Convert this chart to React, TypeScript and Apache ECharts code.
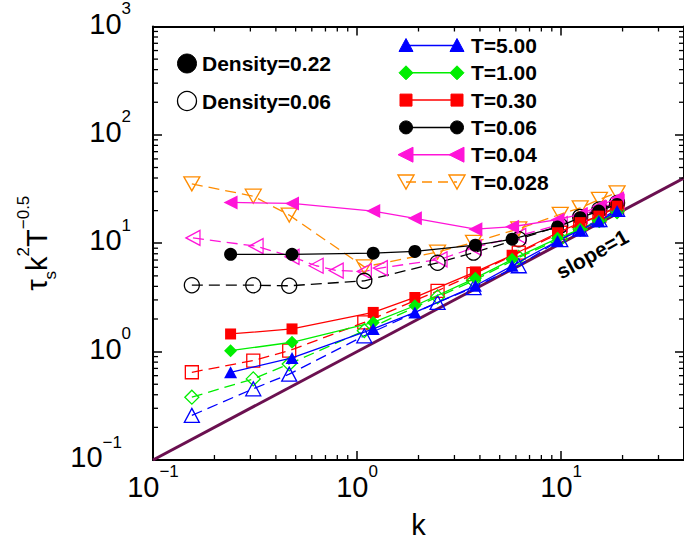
import React, { useEffect, useRef } from "react";
import * as echarts from "echarts";

// ---------- data ----------
const kDense = [0.24, 0.48, 1.2, 1.92, 3.8, 5.75, 9.6, 12.4, 15.3, 18.8];
const kDilute = [0.155, 0.31, 0.465, 1.085, 2.48, 3.72, 6.2, 9.9, 12.4, 15.4, 18.8];
const kDiluteT004 = [0.157, 0.32, 0.48, 0.63, 0.79, 1.085, 1.3, 2.55, 3.75, 6.2, 9.9, 12.4, 15.4, 18.8];

const dense_T500 = [0.645, 0.875, 1.62, 2.3, 4.05, 6.2, 10.5, 13.2, 16.0, 19.8];
const dense_T100 = [1.02, 1.22, 1.86, 2.65, 4.76, 7.1, 11.1, 13.5, 16.0, 19.0];
const dense_T030 = [1.455, 1.62, 2.3, 3.16, 5.44, 7.75, 12.5, 15.5, 17.8, 22.0];
const dense_T006 = [7.9, 7.9, 8.1, 8.4, 9.6, 10.9, 14.1, 17.2, 19.8, 22.8];
const dense_T004 = [23.8, 23.3, 19.8, 17.0, 13.5, 14.2, 16.5, 18.5, 22.0, 26.0];

const dilute_T500 = [0.258, 0.454, 0.62, 1.4, 2.84, 3.9, 6.2, 10.8, 13.5, 16.5, 20.5];
const dilute_T100 = [0.38, 0.56, 0.77, 1.56, 3.2, 4.5, 7.4, 11.0, 13.5, 16.3, 19.8];
const dilute_T030 = [0.645, 0.827, 1.02, 1.86, 3.64, 5.18, 8.2, 12.5, 15.0, 18.0, 21.5];
const dilute_T006 = [4.1, 4.1, 4.05, 4.5, 6.6, 8.2, 10.9, 14.5, 17.5, 20.5, 23.5];
const dilute_T004 = [11.2, 9.4, 7.5, 6.2, 5.6, 5.5, 5.9, 7.1, 9.1, 11.7, 15.0, 18.0, 21.0, 24.0];
const dilute_T0028 = [35.3, 27.2, 18.2, 6.05, 8.3, 10.2, 13.6, 18.5, 21.2, 25.4, 29.2];

const slopeK = [0.1, 40];
const slopeV = [0.1, 40];

const legendT = ["T=5.00", "T=1.00", "T=0.30", "T=0.06", "T=0.04", "T=0.028"];
const densityLabels = ["Density=0.22", "Density=0.06"];
const slopeLabel = "slope=1";
const xName = "k";

// ---------- styles ----------
const FONT = '"Liberation Sans", Arial, Helvetica, sans-serif';
const BLUE = "#0000ff";
const GREEN = "#00ee00";
const RED = "#ff0000";
const BLACK = "#000000";
const MAGENTA = "#ff14d8";
const ORANGE = "#ff8c00";
const SLOPE = "#6b1050";

type Def = {
  name: string;
  k: number[];
  v: number[];
  color: string;
  symbol: string;
  rot: number;
  filled: boolean;
  size: number | number[];
};

const defs: Def[] = [
  { name: "T=0.028 D=0.06", k: kDilute, v: dilute_T0028, color: ORANGE, symbol: "triangle", rot: 180, filled: false, size: [16, 14] },
  { name: "T=0.04 D=0.06", k: kDiluteT004, v: dilute_T004, color: MAGENTA, symbol: "triangle", rot: 90, filled: false, size: [15, 14] },
  { name: "T=0.06 D=0.06", k: kDilute, v: dilute_T006, color: BLACK, symbol: "circle", rot: 0, filled: false, size: 15 },
  { name: "T=0.30 D=0.06", k: kDilute, v: dilute_T030, color: RED, symbol: "rect", rot: 0, filled: false, size: 13 },
  { name: "T=1.00 D=0.06", k: kDilute, v: dilute_T100, color: GREEN, symbol: "diamond", rot: 0, filled: false, size: 14 },
  { name: "T=5.00 D=0.06", k: kDilute, v: dilute_T500, color: BLUE, symbol: "triangle", rot: 0, filled: false, size: [15, 14] },
  { name: "T=0.04 D=0.22", k: kDense, v: dense_T004, color: MAGENTA, symbol: "triangle", rot: 90, filled: true, size: [14, 14] },
  { name: "T=0.06 D=0.22", k: kDense, v: dense_T006, color: BLACK, symbol: "circle", rot: 0, filled: true, size: 13 },
  { name: "T=0.30 D=0.22", k: kDense, v: dense_T030, color: RED, symbol: "rect", rot: 0, filled: true, size: 11 },
  { name: "T=1.00 D=0.22", k: kDense, v: dense_T100, color: GREEN, symbol: "diamond", rot: 0, filled: true, size: 13 },
  { name: "T=5.00 D=0.22", k: kDense, v: dense_T500, color: BLUE, symbol: "triangle", rot: 0, filled: true, size: [13, 12] },
];

const legendStyle = [
  { color: BLUE, kind: "triangle", dashed: false, filled: true },
  { color: GREEN, kind: "diamond", dashed: false, filled: true },
  { color: RED, kind: "rect", dashed: false, filled: true },
  { color: BLACK, kind: "circle", dashed: false, filled: true },
  { color: MAGENTA, kind: "left", dashed: false, filled: true },
  { color: ORANGE, kind: "down", dashed: true, filled: false },
];

function marker(kind: string, x: number, y: number, color: string, filled: boolean): any {
  const style = filled
    ? { fill: color, stroke: color, lineWidth: 1 }
    : { fill: "none", stroke: color, lineWidth: 1.4 };
  switch (kind) {
    case "triangle":
      return { type: "polygon", silent: true, shape: { points: [[x - 7, y + 6], [x, y - 7], [x + 7, y + 6]] }, style };
    case "diamond":
      return { type: "polygon", silent: true, shape: { points: [[x - 7, y], [x, y - 7], [x + 7, y], [x, y + 7]] }, style };
    case "rect":
      return { type: "rect", silent: true, shape: { x: x - 6, y: y - 6, width: 12, height: 12 }, style };
    case "circle":
      return { type: "circle", silent: true, shape: { cx: x, cy: y, r: 6.5 }, style };
    case "left":
      return { type: "polygon", silent: true, shape: { points: [[x - 8, y], [x + 7, y - 7.5], [x + 7, y + 7.5]] }, style };
    default:
      return { type: "polygon", silent: true, shape: { points: [[x - 8, y - 7], [x + 8, y - 7], [x, y + 7]] }, style };
  }
}

const labelFmt = (pad: boolean) => (v: number) => {
  const l = Math.log10(v);
  const e = Math.round(l);
  if (Math.abs(l - e) > 1e-6) return "";
  const s = e < 0 ? "\u2212" + String(-e) : String(e);
  return `{b|10}{s|${s}}` + (pad && e < 0 ? "{p|}" : "");
};

const richLabel = {
  b: { fontSize: 29, lineHeight: 38, verticalAlign: "bottom", fontFamily: FONT, color: "#000" },
  s: { fontSize: 17, lineHeight: 17, verticalAlign: "top", fontFamily: FONT, color: "#000" },
  p: { width: 9 },
};

export default function App() {
  const ref = useRef<HTMLDivElement>(null);
  useEffect(() => {
    if (!ref.current) return;
    const chart = echarts.init(ref.current, undefined, { renderer: "svg" });

    const minorX: number[] = [];
    [0.1, 1, 10].forEach((d) => {
      for (let m = 2; m <= 9; m++) {
        const v = m * d;
        if (v < 40) minorX.push(v);
      }
    });
    const minorY: number[] = [];
    [0.1, 1, 10, 100].forEach((d) => {
      for (let m = 2; m <= 9; m++) minorY.push(m * d);
    });

    const dataSeries = defs.map((d) => ({
      type: "line",
      name: d.name,
      silent: true,
      xAxisIndex: 0,
      yAxisIndex: 0,
      data: d.k.map((k, i) => [k, d.v[i]]),
      symbol: d.symbol,
      symbolSize: d.size,
      symbolRotate: d.rot,
      showAllSymbol: true,
      lineStyle: {
        color: d.color,
        width: 1.3,
        type: d.filled ? "solid" : [11, 6],
      },
      itemStyle: d.filled
        ? { color: d.color, borderColor: d.color, borderWidth: 0 }
        : { color: "transparent", borderColor: d.color, borderWidth: 1.3 },
      z: d.filled ? 4 : 3,
    }));

    const graphics: any[] = [];
    legendT.forEach((t, i) => {
      const y = 45.5 + i * 27.3;
      const st = legendStyle[i];
      graphics.push({
        type: "line",
        silent: true,
        shape: { x1: 406, y1: y, x2: 457, y2: y },
        style: { stroke: st.color, lineWidth: 1.5, lineDash: st.dashed ? [10, 6] : null },
      });
      graphics.push(marker(st.kind, 406, y, st.color, st.filled));
      graphics.push(marker(st.kind, 457, y, st.color, st.filled));
      graphics.push({
        type: "text",
        silent: true,
        x: 471,
        y: y,
        style: { text: t, fontSize: 21, fontWeight: "bold", fontFamily: FONT, fill: "#000", verticalAlign: "middle", align: "left" },
      });
    });
    densityLabels.forEach((t, i) => {
      const y = 63.5 + i * 37.5;
      graphics.push({
        type: "circle",
        silent: true,
        shape: { cx: 187, cy: y, r: 9.5 },
        style: i === 0 ? { fill: "#000", stroke: "#000" } : { fill: "none", stroke: "#000", lineWidth: 1.3 },
      });
      graphics.push({
        type: "text",
        silent: true,
        x: 202,
        y: y,
        style: { text: t, fontSize: 21, fontWeight: "bold", fontFamily: FONT, fill: "#000", verticalAlign: "middle", align: "left" },
      });
    });
    graphics.push({
      type: "text",
      silent: true,
      x: 592,
      y: 254,
      rotation: (29 * Math.PI) / 180,
      style: { text: slopeLabel, fontSize: 21, fontWeight: "bold", fontFamily: FONT, fill: "#000", align: "center", verticalAlign: "middle" },
    });

    const axisLineStyle = { show: true, onZero: false, lineStyle: { color: "#000", width: 2 } };
    const majorTick = { show: true, inside: true, length: 9, lineStyle: { color: "#000", width: 1.5 } };

    const option: any = {
      animation: false,
      backgroundColor: "#fff",
      textStyle: { fontFamily: FONT },
      grid: { left: 153, top: 24, width: 537, height: 436, containLabel: false },
      xAxis: [
        {
          type: "log",
          logBase: 10,
          min: 0.1,
          max: 40,
          position: "bottom",
          axisLine: axisLineStyle,
          axisTick: majorTick,
          splitLine: { show: false },
          axisLabel: { formatter: labelFmt(false), rich: richLabel, margin: 3, showMaxLabel: false, hideOverlap: false },
          name: xName,
          nameLocation: "middle",
          nameGap: 50,
          nameTextStyle: { fontSize: 29, fontFamily: FONT, color: "#000" },
        },
        {
          type: "log",
          logBase: 10,
          min: 0.1,
          max: 40,
          position: "top",
          axisLine: axisLineStyle,
          axisTick: majorTick,
          splitLine: { show: false },
          axisLabel: { show: false },
        },
      ],
      yAxis: [
        {
          type: "log",
          logBase: 10,
          min: 0.1,
          max: 1000,
          position: "left",
          axisLine: axisLineStyle,
          axisTick: majorTick,
          splitLine: { show: false },
          axisLabel: { formatter: labelFmt(true), rich: richLabel, margin: 22, padding: [0, 0, 15, 0], align: "right" },
          name: "{t|\u03c4}{sub|s}{t|k}{sup|2}{t|T}{sup|\u22120.5}",
          nameLocation: "middle",
          nameRotate: 90,
          nameGap: 91,
          nameTextStyle: {
            rich: {
              t: { fontSize: 29, lineHeight: 44, fontFamily: FONT, color: "#000" },
              sup: { fontSize: 17, lineHeight: 17, verticalAlign: "top", fontFamily: FONT, color: "#000" },
              sub: { fontSize: 17, lineHeight: 17, verticalAlign: "bottom", fontFamily: FONT, color: "#000" },
            },
          },
        },
        {
          type: "log",
          logBase: 10,
          min: 0.1,
          max: 1000,
          position: "right",
          axisLine: axisLineStyle,
          axisTick: majorTick,
          splitLine: { show: false },
          axisLabel: { show: false },
        },
      ],
      graphic: graphics,
      series: [
        {
          type: "line",
          name: "slope=1",
          silent: true,
          data: slopeK.map((k, i) => [k, slopeV[i]]),
          symbol: "none",
          lineStyle: { color: SLOPE, width: 3 },
          z: 2,
        },
        ...dataSeries,
        {
          type: "custom",
          name: "minorX",
          silent: true,
          clip: false,
          data: minorX.map((v) => [v, 1]),
          renderItem: (_p: any, api: any) => {
            const x = api.coord([api.value(0), 1])[0];
            const yb = api.coord([1, 0.1])[1];
            const yt = api.coord([1, 1000])[1];
            return {
              type: "group",
              children: [
                { type: "line", shape: { x1: x, y1: yb, x2: x, y2: yb - 5 }, style: { stroke: "#000", lineWidth: 1.3 } },
                { type: "line", shape: { x1: x, y1: yt, x2: x, y2: yt + 5 }, style: { stroke: "#000", lineWidth: 1.3 } },
              ],
            };
          },
          z: 6,
        },
        {
          type: "custom",
          name: "minorY",
          silent: true,
          clip: false,
          data: minorY.map((v) => [1, v]),
          renderItem: (_p: any, api: any) => {
            const y = api.coord([1, api.value(1)])[1];
            const xl = api.coord([0.1, 1])[0];
            const xr = api.coord([40, 1])[0];
            return {
              type: "group",
              children: [
                { type: "line", shape: { x1: xl, y1: y, x2: xl + 5, y2: y }, style: { stroke: "#000", lineWidth: 1.3 } },
                { type: "line", shape: { x1: xr, y1: y, x2: xr - 5, y2: y }, style: { stroke: "#000", lineWidth: 1.3 } },
              ],
            };
          },
          z: 6,
        },
      ],
    };
    chart.setOption(option);
    return () => chart.dispose();
  }, []);
  return (
    <div
      ref={ref}
      style={{ position: "fixed", left: 0, top: 0, width: 684, height: 544, background: "#fff" }}
    />
  );
}
